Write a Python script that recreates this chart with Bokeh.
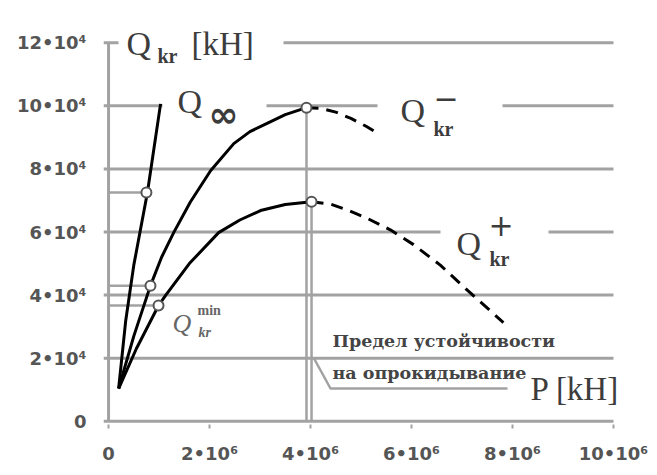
from bokeh.plotting import figure
from bokeh.models import Range1d, FixedTicker, BoxAnnotation, Label
from bokeh.embed import file_html
from bokeh.resources import INLINE

# Axis ticks and their labels
x_ticks = [0, 2000000, 4000000, 6000000, 8000000, 10000000]
x_tick_labels = ["0", "2•10⁶", "4•10⁶", "6•10⁶", "8•10⁶", "10•10⁶"]
y_ticks = [0, 20000, 40000, 60000, 80000, 100000, 120000]
y_tick_labels = ["0", "2•10⁴", "4•10⁴", "6•10⁴", "8•10⁴", "10•10⁴", "12•10⁴"]

# Q_inf(P)
inf_p = [0.20e6, 0.34e6, 0.50e6, 0.77e6, 1.03e6]
inf_q = [1.04e4, 3.19e4, 4.95e4, 7.25e4, 10.06e4]

# Q_kr^-(P): stable branch and branch past the tipping limit
minus_p = [0.20e6, 0.50e6, 0.83e6, 1.05e6, 1.29e6, 1.62e6, 2.02e6, 2.48e6,
           2.80e6, 3.15e6, 3.50e6, 3.92e6]
minus_q = [1.04e4, 2.70e4, 4.30e4, 5.20e4, 5.98e4, 6.95e4, 7.94e4, 8.80e4,
           9.18e4, 9.45e4, 9.72e4, 9.94e4]
minus_tail_p = [3.92e6, 4.20e6, 4.50e6, 4.80e6, 5.10e6, 5.38e6]
minus_tail_q = [9.94e4, 9.92e4, 9.80e4, 9.60e4, 9.35e4, 9.08e4]

# Q_kr^+(P)
plus_p = [0.20e6, 0.55e6, 0.99e6, 1.13e6, 1.60e6, 2.18e6, 2.60e6, 3.01e6,
          3.50e6, 4.02e6]
plus_q = [1.04e4, 2.30e4, 3.67e4, 3.99e4, 5.00e4, 5.98e4, 6.38e4, 6.68e4,
          6.87e4, 6.96e4]
plus_tail_p = [4.02e6, 4.40e6, 4.73e6, 5.10e6, 5.58e6, 6.04e6, 6.57e6, 7.11e6, 7.82e6]
plus_tail_q = [6.96e4, 6.88e4, 6.70e4, 6.45e4, 6.07e4, 5.60e4, 4.95e4, 4.15e4, 3.13e4]

# Marked points: read-off points near the origin and the maxima (tipping limit)
side_p = [0.75e6, 0.83e6, 0.99e6]
side_q = [7.25e4, 4.30e4, 3.67e4]
peak_p = [3.92e6, 4.02e6]
peak_q = [9.94e4, 6.96e4]

# Canvas / frame geometry (frame spans the whole canvas right of the tick labels,
# so that the curve names above and right of the grid are not clipped)
W, H = 657, 475
LEFT, RIGHT, TOP, BOTTOM = 103, 657, 0, 424
PX_PER_X = 50.495 / 1e6          # pixels per kH along P
PX_PER_Y = 31.557 / 1e4          # pixels per kH along Q
X0 = -0.1e6
X1 = X0 + (RIGHT - LEFT) / PX_PER_X
Y0 = -0.1e4
Y1 = Y0 + (BOTTOM - TOP) / PX_PER_Y


def px(x, y):
    """Canvas pixel position -> data coordinates."""
    return X0 + (x - LEFT) / PX_PER_X, Y0 + (BOTTOM - y) / PX_PER_Y


GRID = "#a2a2a2"
INK = "#3c3c3c"
SERIF = "Liberation Serif"

p = figure(width=W, height=H, x_range=Range1d(X0, X1), y_range=Range1d(Y0, Y1),
           min_border_left=LEFT, min_border_right=W - RIGHT,
           min_border_top=TOP, min_border_bottom=H - BOTTOM,
           output_backend="svg", toolbar_location=None)
p.outline_line_color = None
p.background_fill_color = "white"
p.border_fill_color = "white"
p.xgrid.visible = False
p.ygrid.visible = False

for ax in (p.xaxis[0], p.yaxis[0]):
    ax.axis_line_color = None
    ax.minor_tick_line_color = None
    ax.major_label_text_font = "DejaVu Sans"
    ax.major_label_text_font_style = "bold"
    ax.major_label_text_font_size = "18px"
    ax.major_label_text_color = "#555555"

p.xaxis.ticker = FixedTicker(ticks=x_ticks)
p.xaxis.major_label_overrides = dict(zip(x_ticks, x_tick_labels))
p.xaxis.major_tick_line_color = GRID
p.xaxis.major_tick_line_width = 2
p.xaxis.major_tick_out = 4
p.xaxis.major_tick_in = 0
p.xaxis.major_label_standoff = 14

p.yaxis.ticker = FixedTicker(ticks=y_ticks)
p.yaxis.major_label_overrides = dict(zip(y_ticks, y_tick_labels))
p.yaxis.major_tick_line_color = None
p.yaxis.major_label_standoff = 11

# horizontal grid lines, from just left of the Q axis to the last P tick
n = len(y_ticks)
p.segment(x0=[X0] * n, y0=y_ticks, x1=[x_ticks[-1]] * n, y1=y_ticks,
          line_color=GRID, line_width=3)
# Q axis line
p.segment(x0=[0], y0=[y_ticks[0]], x1=[0], y1=[y_ticks[-1]],
          line_color=GRID, line_width=3)

# helper lines: read-off levels and the tipping limit verticals
p.segment(x0=[0] * len(side_p), y0=side_q, x1=side_p, y1=side_q,
          line_color=GRID, line_width=2.5)
p.segment(x0=peak_p, y0=[0] * len(peak_p), x1=peak_p, y1=peak_q,
          line_color=GRID, line_width=2.5)

# curves
for xs, ys, dash in [(inf_p, inf_q, "solid"), (minus_p, minus_q, "solid"),
                     (plus_p, plus_q, "solid"),
                     (minus_tail_p, minus_tail_q, "12 8"),
                     (plus_tail_p, plus_tail_q, "12 8")]:
    p.line(xs, ys, line_color="black", line_width=3, line_dash=dash,
           line_join="round")

p.scatter(side_p + peak_p, side_q + peak_q, size=10, fill_color="white",
          line_color="#555555", line_width=2)

# callout leader for the tipping-limit note
lx, ly = zip(px(313, 357), px(330, 388), px(507, 388))
p.line(list(lx), list(ly), line_color=GRID, line_width=2.5)

# white gaps in grid lines behind the curve names
for (xa, xb, level) in [(118, 283, 12e4), (162, 266, 10e4), (377, 502, 10e4), (440, 548, 6e4)]:
    a, _ = px(xa, 0)
    b, _ = px(xb, 0)
    p.add_layout(BoxAnnotation(left=a, right=b, bottom=level - 0.18e4, top=level + 0.18e4,
                               fill_color="white", fill_alpha=1, line_color=None))


def label(x, y, text, size, font=SERIF, style="normal", color=INK, middle=False):
    """Place text with its baseline (or its middle) at canvas pixel (x, y)."""
    if middle:
        dx, dy = px(x, y)
        base = "middle"
    else:
        dx, dy = px(x, y - 0.36 * size)
        base = "alphabetic"
    p.add_layout(Label(x=dx, y=dy, text=text, text_font=font, text_font_size=f"{size}px",
                       text_font_style=style, text_color=color, text_baseline=base,
                       text_align="left"))


# Q_kr [kH]
label(126, 55, "Q", 34)
label(157, 63, "kr", 20, style="bold")
label(191, 55, "[kH]", 33)
# Q_inf
label(177, 113, "Q", 34)
label(208, 114, "∞", 36, font="DejaVu Sans", style="bold", middle=True)
# Q_kr^-
label(400, 122, "Q", 34)
label(433, 97, "−", 30, font="DejaVu Sans", middle=True)
label(433, 136, "kr", 20, style="bold")
# Q_kr^+
label(456, 255, "Q", 34)
label(488, 224, "+", 30, font="DejaVu Sans", middle=True)
label(489, 266, "kr", 20, style="bold")
# Q_kr^min
label(172, 332, "Q", 26, style="italic", color="#666666")
label(197, 315, "min", 14, style="bold", color="#666666")
label(198, 337, "kr", 14, style="bold italic", color="#666666")
# P [kH]
label(530, 400, "P [kH]", 33)
# tipping limit note
label(332, 347, "Предел устойчивости", 17.5, font="DejaVu Serif", style="bold", color="#444444")
label(332, 379, "на опрокидывание", 17.5, font="DejaVu Serif", style="bold", color="#444444")

open("out.html", "w").write(file_html(p, INLINE))
